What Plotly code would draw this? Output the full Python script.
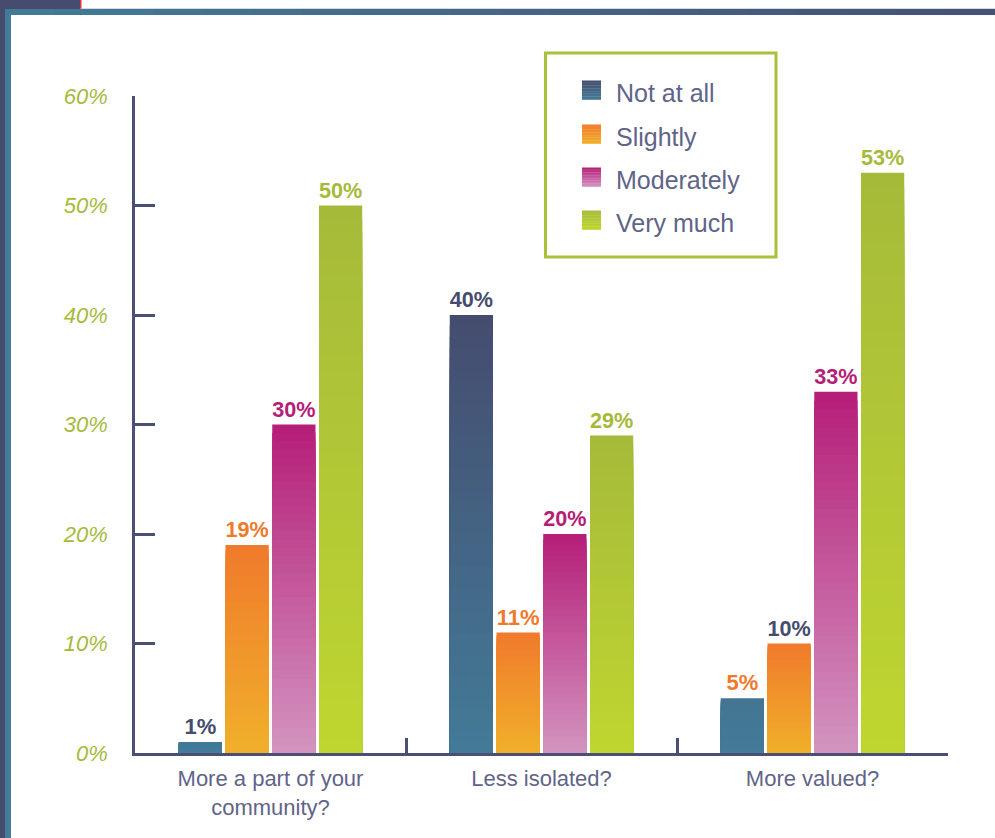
import plotly.graph_objects as go

# ---------------- data ----------------
categories = ["More a part of your<br>community?", "Less isolated?", "More valued?"]
series_names = ["Not at all", "Slightly", "Moderately", "Very much"]
not_at_all = [1, 40, 5]
slightly = [19, 11, 10]
moderately = [30, 20, 33]
very_much = [50, 29, 53]
y_tick_values = [0, 10, 20, 30, 40, 50, 60]
y_tick_labels = ["0%", "10%", "20%", "30%", "40%", "50%", "60%"]

series_values = [not_at_all, slightly, moderately, very_much]

# ---------------- style ----------------
top_colors = ["#454c6e", "#f07a2c", "#b51e78", "#a6ba3a"]
bottom_colors = ["#437b98", "#f0b02a", "#d394c0", "#bfd630"]
label_palette = {"navy": "#454c6e", "orange": "#f07a2c", "pink": "#b51e78", "green": "#a6ba3a"}
label_colors = [
    ["navy", "navy", "orange"],
    ["orange", "orange", "navy"],
    ["pink", "pink", "pink"],
    ["green", "green", "green"],
]
# gradient reach: None -> gradient over the whole bar; number -> gradient mapped on absolute axis value
gradient_reach = [40, None, None, None]
N_SLICES = 40
AXIS_COLOR = "#4a5075"
TEXT_COLOR = "#5f6488"
FONT = "Liberation Sans"

W_PX, H_PX = 995, 838
L, R, T, B = 135, 948, 96, 753


def px(x):
    return (x - L) / (R - L)


def py(y):
    return (B - y) / (B - T)


def hex2rgb(h):
    h = h.lstrip("#")
    return tuple(int(h[i:i + 2], 16) for i in (0, 2, 4))


def mix(c_bottom, c_top, t):
    a, b = hex2rgb(c_bottom), hex2rgb(c_top)
    t = max(0.0, min(1.0, t))
    return "rgb(%d,%d,%d)" % tuple(round(a[i] + (b[i] - a[i]) * t) for i in range(3))


fig = go.Figure()

for si, (name, vals) in enumerate(zip(series_names, series_values)):
    # gradient: overlapping bars from the full height downwards, each drawn over the previous
    for k in range(N_SLICES):
        frac_top = (N_SLICES - k) / N_SLICES
        frac_mid = (N_SLICES - k - 0.5) / N_SLICES
        colors = []
        for v in vals:
            if gradient_reach[si] is None:
                t = frac_mid
            else:
                t = frac_mid * v / gradient_reach[si]
            colors.append(mix(bottom_colors[si], top_colors[si], t))
        fig.add_trace(go.Bar(
            x=categories,
            y=[v * frac_top for v in vals],
            offsetgroup=name,
            marker=dict(color=colors, line=dict(width=0)),
            showlegend=False,
            hoverinfo="skip",
        ))
    # label trace
    fig.add_trace(go.Bar(
        x=categories,
        y=vals,
        offsetgroup=name,
        name=name,
        marker=dict(color="rgba(0,0,0,0)", line=dict(width=0)),
        text=[f"{v}%" for v in vals],
        textposition="outside",
        textfont=dict(family=FONT, size=22, weight="bold",
                      color=[label_palette[c] for c in label_colors[si]]),
        cliponaxis=False,
        showlegend=False,
    ))

shapes = []
annotations = []

# legend box
shapes.append(dict(type="rect", xref="paper", yref="paper",
                   x0=px(545.5), x1=px(776), y0=py(53), y1=py(257),
                   line=dict(color="#a8c03a", width=3), fillcolor="white", layer="above"))
row_y = [90, 134, 177, 220]
for si, name in enumerate(series_names):
    y0 = row_y[si] - 9.5
    n = 12
    for k in range(n):
        ya = y0 + 19 * k / n
        yb = y0 + 19 * (k + 1) / n + 0.3
        shapes.append(dict(type="rect", xref="paper", yref="paper",
                           x0=px(582), x1=px(601), y0=py(yb), y1=py(ya),
                           line=dict(width=0),
                           fillcolor=mix(bottom_colors[si], top_colors[si], 1 - (k + 0.5) / n),
                           layer="above"))
    annotations.append(dict(xref="paper", yref="paper", x=px(614), y=py(row_y[si] + 3),
                            text=name, showarrow=False, xanchor="left", yanchor="middle",
                            font=dict(family=FONT, size=25, color=TEXT_COLOR)))

# decorative frame
shapes.append(dict(type="rect", xref="paper", yref="paper", x0=px(0), x1=px(80), y0=py(9), y1=py(0),
                   line=dict(width=0), fillcolor="#454c6e", layer="above"))
shapes.append(dict(type="rect", xref="paper", yref="paper", x0=px(80), x1=px(81.5), y0=py(9), y1=py(0),
                   line=dict(width=0), fillcolor="#e8333a", layer="above"))
shapes.append(dict(type="rect", xref="paper", yref="paper", x0=px(80), x1=px(995), y0=py(9.5), y1=py(8.5),
                   line=dict(width=0), fillcolor="#aab6be", layer="above"))
nb = 20
for k in range(nb):
    xa = 5 + (995 - 5) * k / nb
    xb = 5 + (995 - 5) * (k + 1) / nb + 0.5
    shapes.append(dict(type="rect", xref="paper", yref="paper", x0=px(xa), x1=px(xb), y0=py(15), y1=py(9),
                       line=dict(width=0), fillcolor=mix("#437b98", "#465076", (k + 0.5) / nb),
                       layer="above"))
shapes.append(dict(type="rect", xref="paper", yref="paper", x0=px(5), x1=px(11), y0=py(838), y1=py(9),
                   line=dict(width=0), fillcolor="#437b98", layer="above"))
shapes.append(dict(type="rect", xref="paper", yref="paper", x0=px(0), x1=px(5), y0=py(838), y1=py(0),
                   line=dict(width=0), fillcolor="#454c6e", layer="above"))

fig.update_layout(
    width=W_PX, height=H_PX,
    margin=dict(l=L, r=W_PX - R, t=T, b=H_PX - B, pad=0),
    paper_bgcolor="white", plot_bgcolor="white",
    barmode="group", bargap=0.31, bargroupgap=0.075,
    showlegend=False,
    shapes=shapes,
    annotations=annotations,
    xaxis=dict(
        showline=True, linecolor=AXIS_COLOR, linewidth=3,
        ticks="inside", ticklen=15, tickwidth=3, tickcolor=AXIS_COLOR,
        tickson="boundaries", showgrid=False, zeroline=False,
        tickfont=dict(family=FONT, size=22, color=TEXT_COLOR),
        ticklabelstandoff=4,
        fixedrange=True,
    ),
    yaxis=dict(
        range=[0, 60], showline=True, linecolor=AXIS_COLOR, linewidth=2.5,
        ticks="inside", ticklen=20, tickwidth=2.5, tickcolor=AXIS_COLOR,
        tickvals=y_tick_values, ticktext=y_tick_labels,
        showgrid=False, zeroline=False,
        tickfont=dict(family=FONT, size=22, color="#a6ba3a", style="italic"),
        ticklabelstandoff=20,
        fixedrange=True,
    ),
)

fig.write_html("out.html")
